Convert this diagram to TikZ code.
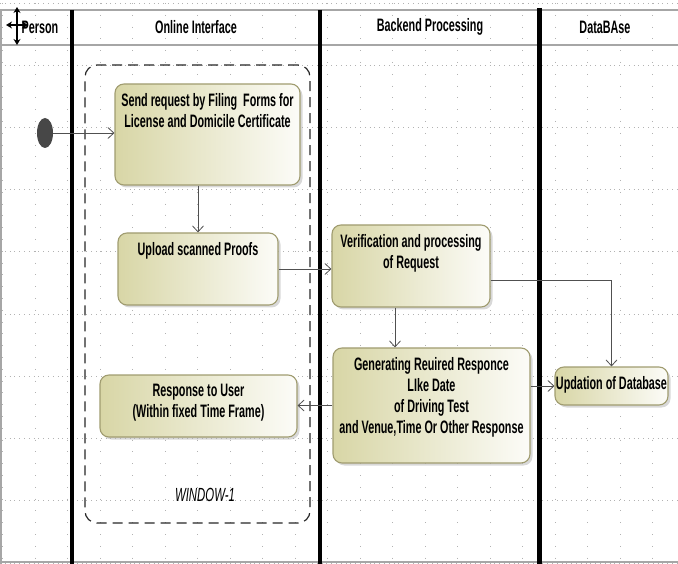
\documentclass[tikz,border=0pt]{standalone}
\usepackage{fontspec}
\setmainfont{Liberation Sans}[FakeStretch=0.6]
\usetikzlibrary{arrows.meta, shapes.geometric, shadows}
\definecolor{actfill}{RGB}{216,214,166}
\definecolor{actline}{RGB}{160,156,112}
\definecolor{flowgray}{RGB}{80,80,80}
\newcommand{\acttop}[3]{\begin{minipage}[c][#2][t]{#1}\centering\vspace*{9pt}#3\end{minipage}}

\begin{document}
\begin{tikzpicture}[
    x=1pt, y=-1pt,
    act/.style={rounded corners=9pt, draw=actline, line width=1.1pt,
                left color=actfill, right color=actfill!8, inner sep=0pt,
                drop shadow={shadow xshift=2.5pt, shadow yshift=-2.5pt, fill=black!30},
                font=\bfseries\fontsize{18}{21}\selectfont},
    head/.style={font=\bfseries\fontsize{18}{20}\selectfont},
    start/.style={ellipse, fill=black!72, minimum width=16pt, minimum height=30pt, inner sep=0pt},
    window/.style={draw=black!85, line width=1.2pt, dash pattern=on 10pt off 6pt,
                   rounded corners=12pt, minimum width=225pt, minimum height=458pt},
    wintext/.style={font=\itshape\fontsize{19}{21}\selectfont},
    flow/.style={-{Straight Barb[length=6pt, width=11pt]}, draw=flowgray, line width=0.8pt},
    gridh/.style={gray!60, line width=0.6pt, dash pattern=on 0.8pt off 4pt},
    gridv/.style={gray!60, line width=0.6pt, dash pattern=on 0.8pt off 11pt},
    lane/.style={line width=4.5pt, black},
    band/.style={line width=2.5pt, gray!70}
  ]
    \useasboundingbox (0,0) rectangle (678,564);
    \foreach \gy in {3,65.2,...,564} \draw[gridh] (0,\gy) -- (678,\gy);
    \foreach \gx in {2.5,35,...,678} \draw[gridv] (\gx,3) -- (\gx,564);
    \draw[band] (0,10) -- (678,10);
    \draw[band] (0,45) -- (678,45);
    \draw[gray!70, line width=1.5pt] (1,10) -- (1,564);
    \draw[gray!70, line width=1.5pt] (0,562) -- (678,562);
    \draw[lane] (72,10) -- (72,564);
    \draw[lane] (320,10) -- (320,564);
    \draw[lane] (539.5,8) -- (539.5,564);

    \node[head] (hperson) at (40,27) {Person};
    \node[head] (honline) at (196,27) {Online Interface};
    \node[head] (hback) at (430,27) {Backend Processing};
    \node[head] (hdb) at (605,27) {DataBAse};
    \draw[{Stealth[length=6pt, width=7pt]}-{Stealth[length=6pt, width=7pt]}, line width=1.4pt] (17,7) -- (17,45);
    \draw[{Stealth[length=6pt, width=7pt]}-{Stealth[length=6pt, width=7pt]}, line width=1.4pt] (6,25) -- (28,25);

    \node[window] (win) at (197.5,294) {};
    \node[wintext] (wlbl) at (205,495) {WINDOW-1};

    \node[start] (init) at (45,133) {};
    \node[act] (send) at (207.5,134.5) {\acttop{185pt}{101pt}{Send request by Filing\ \ Forms for\\License and Domicile Certificate}};
    \node[act] (upl) at (198,269) {\acttop{160pt}{72pt}{Upload scanned Proofs}};
    \node[act] (ver) at (411,266) {\acttop{158pt}{82pt}{Verification and processing\\of Request}};
    \node[act] (gen) at (431.5,405.5) {\acttop{197pt}{115pt}{Generating Reuired Responce\\LIke Date\\of Driving Test\\and Venue,Time Or Other Response}};
    \node[act] (resp) at (198.5,406) {\acttop{197pt}{62pt}{Response to User\\(Within fixed Time Frame)}};
    \node[act] (upd) at (611.5,386) {\acttop{113pt}{38pt}{Updation of Database}};

    \draw[flow] (init) -- (send.west |- init);
    \draw[flow] (send.south -| upl.north) -- (upl.north);
    \draw[flow] (upl.east) -- (upl.east -| ver.west);
    \draw[flow] ([xshift=-16pt]ver.south) -- ([xshift=-16pt]ver.south |- gen.north);
    \draw[flow] (gen.west) -- (gen.west -| resp.east);
    \draw[flow] (gen.east |- upd.west) -- (upd.west);
    \draw[flow] ([yshift=-14pt]ver.east) -| (upd.north);
  \end{tikzpicture}
\end{document}
